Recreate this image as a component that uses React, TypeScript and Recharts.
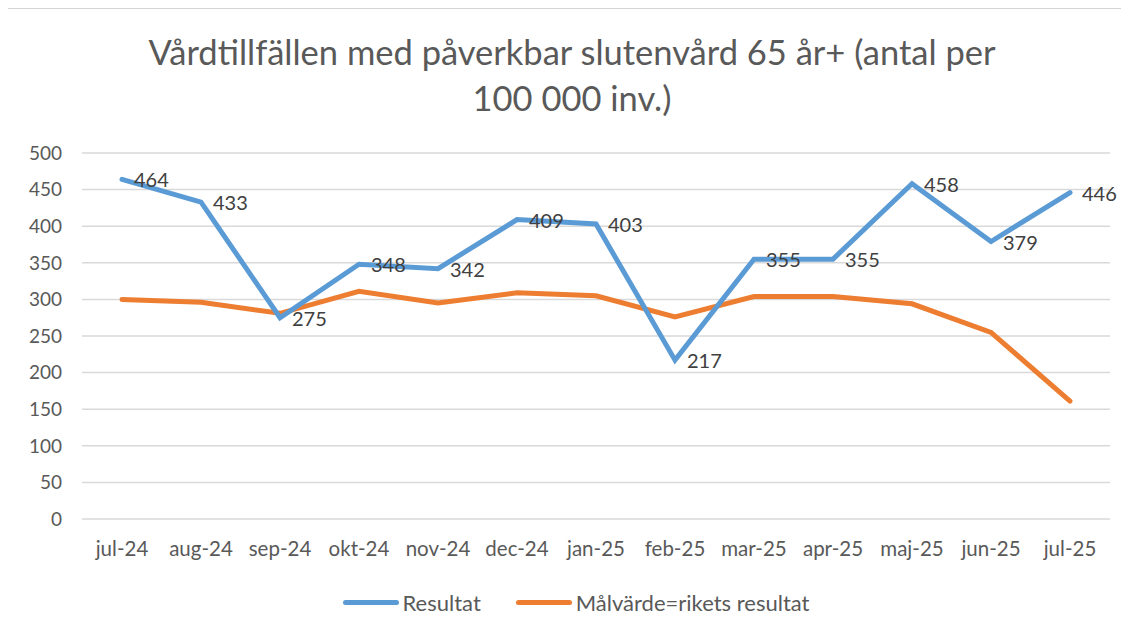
import { CartesianGrid, LabelList, Line, LineChart, XAxis, YAxis } from "recharts";

const months = [
  "jul-24", "aug-24", "sep-24", "okt-24", "nov-24", "dec-24", "jan-25",
  "feb-25", "mar-25", "apr-25", "maj-25", "jun-25", "jul-25",
];
const resultat = [464, 433, 275, 348, 342, 409, 403, 217, 355, 355, 458, 379, 446];
const malvarde = [300, 296, 281, 311, 295, 309, 305, 276, 304, 304, 294, 255, 161];
const yTicks = [0, 50, 100, 150, 200, 250, 300, 350, 400, 450, 500];

const data = months.map((m, i) => ({ month: m, resultat: resultat[i], malvarde: malvarde[i] }));

const FONT = "Lato, 'Open Sans', sans-serif";
const BLUE = "#5b9bd5";
const ORANGE = "#ed7d31";
const GRAY = "#595959";

function ValueLabel(props: any) {
  const { x, y, value } = props;
  return (
    <text x={x + 12} y={y + 3} fill="#404040" fontSize={20} fontFamily={FONT} dominantBaseline="middle">
      {value}
    </text>
  );
}

export default function App() {
  return (
    <div style={{ position: "relative", width: 1129, height: 634, margin: -8, background: "#fff", overflow: "hidden" }}>
      <div style={{ position: "absolute", left: 0, top: 0, zIndex: 2 }}>
        <LineChart width={1129} height={634} data={data} margin={{ top: 153, right: 19, bottom: 55, left: 0 }}>
          <CartesianGrid vertical={false} stroke="#d9d9d9" strokeWidth={1.5} />
          <XAxis
            dataKey="month"
            axisLine={false}
            tickLine={false}
            tickSize={6}
            tickMargin={16}
            height={60}
            interval={0}
            padding={{ left: 40, right: 40 }}
            tick={{ fill: GRAY, fontSize: 20.5, fontFamily: FONT }}
          />
          <YAxis
            width={82}
            domain={[0, 500]}
            ticks={yTicks}
            axisLine={false}
            tickLine={false}
            tickSize={6}
            tickMargin={14}
            tick={{ fill: GRAY, fontSize: 19, fontFamily: FONT }}
          />
          <Line
            type="linear"
            dataKey="malvarde"
            name="Målvärde=rikets resultat"
            stroke={ORANGE}
            strokeWidth={5}
            strokeLinecap="round"
            dot={false}
            activeDot={false}
            isAnimationActive={false}
          />
          <Line
            type="linear"
            dataKey="resultat"
            name="Resultat"
            stroke={BLUE}
            strokeWidth={5}
            strokeLinecap="round"
            dot={false}
            activeDot={false}
            isAnimationActive={false}
          >
            <LabelList dataKey="resultat" content={ValueLabel} />
          </Line>
        </LineChart>
      </div>
      {/* frame edges */}
      <div style={{ position: "absolute", left: 5, top: 7, width: 1124, height: 2, background: "#d4d4d4", zIndex: 3 }} />
      <div style={{ position: "absolute", left: 5, top: 7, width: 2, height: 627, background: "#d4d4d4", zIndex: 3 }} />
      <div
        style={{
          position: "absolute", top: 29, left: 0, width: 1144, textAlign: "center", zIndex: 3,
          fontFamily: FONT, fontSize: 34.5, lineHeight: "46px", color: GRAY,
        }}
      >
        Vårdtillfällen med påverkbar slutenvård 65 år+ (antal per
        <br />
        100 000 inv.)
      </div>
      <div
        style={{
          position: "absolute", top: 589, left: 0, width: 1152, display: "flex", justifyContent: "center", zIndex: 3,
          alignItems: "center", fontFamily: FONT, fontSize: 22, color: GRAY,
        }}
      >
        <span style={{ display: "inline-block", width: 56, height: 5, background: BLUE, borderRadius: 3 }} />
        <span style={{ marginLeft: 4 }}>Resultat</span>
        <span style={{ display: "inline-block", width: 56, height: 5, background: ORANGE, borderRadius: 3, marginLeft: 35 }} />
        <span style={{ marginLeft: 4 }}>Målvärde=rikets resultat</span>
      </div>
    </div>
  );
}
